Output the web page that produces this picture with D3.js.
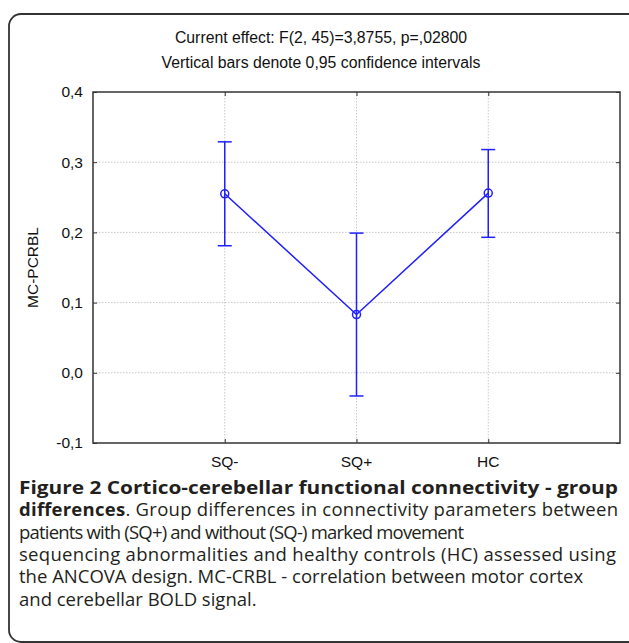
<!DOCTYPE html>
<html>
<head>
<meta charset="utf-8">
<script src="https://cdnjs.cloudflare.com/ajax/libs/d3/7.8.5/d3.min.js"></script>
<style>
  body { margin: 0; background: #fff; }
  svg { display: block; }
</style>
</head>
<body>
<div id="chart"></div>
<script>
const groups = ["SQ-", "SQ+", "HC"];
const means = [0.255, 0.083, 0.256];
const upper = [0.329, 0.199, 0.318];
const lower = [0.181, -0.033, 0.193];
const yTicks = [-0.1, 0.0, 0.1, 0.2, 0.3, 0.4];
const titleLines = [
  "Current effect: F(2, 45)=3,8755, p=,02800",
  "Vertical bars denote 0,95 confidence intervals"
];
const yLabel = "MC-PCRBL";

const BLUE = "#1f1fff";
const FONT = "Liberation Sans, Arial, sans-serif";
const width = 629, height = 643;
const plotL = 93, plotR = 620, plotT = 92, plotB = 443;

const svg = d3.select("#chart").append("svg")
  .attr("width", width)
  .attr("height", height);

// outer frame
svg.append("rect")
  .attr("x", 9).attr("y", 14)
  .attr("width", 640).attr("height", 628)
  .attr("rx", 12)
  .attr("fill", "none")
  .attr("stroke", "#333")
  .attr("stroke-width", 1.8);

let x = d3.scalePoint().domain(["", ...groups, " "]).range([plotL, plotR]);
let y = d3.scaleLinear().domain([-0.1, 0.4]).range([plotB, plotT]);

let fmt = d => d3.format(".1f")(d).replace(".", ",").replace("−", "-");

// grid
let grid = svg.append("g")
  .attr("stroke", "#c8c8c8")
  .attr("stroke-dasharray", "1.5,1.5")
  .attr("stroke-width", 1);
grid.selectAll(".gy")
  .data(yTicks.slice(1, -1))
  .join("line")
  .attr("x1", plotL).attr("x2", plotR)
  .attr("y1", d => y(d)).attr("y2", d => y(d));
grid.selectAll(".gx")
  .data(groups)
  .join("line")
  .attr("x1", d => x(d)).attr("x2", d => x(d))
  .attr("y1", plotT).attr("y2", plotB);

// axes (ticks pointing inward)
svg.append("g")
  .attr("transform", `translate(${plotL},0)`)
  .call(d3.axisRight(y).tickValues(yTicks).tickSize(4).tickFormat(""))
  .call(g => g.select(".domain").remove());
svg.append("g")
  .attr("transform", `translate(${plotR},0)`)
  .call(d3.axisLeft(y).tickValues(yTicks).tickSize(4).tickFormat(""))
  .call(g => g.select(".domain").remove());
svg.append("g")
  .attr("transform", `translate(0,${plotB})`)
  .call(d3.axisTop(x).tickValues(groups).tickSize(4).tickFormat(""))
  .call(g => g.select(".domain").remove());
svg.append("g")
  .attr("transform", `translate(0,${plotT})`)
  .call(d3.axisBottom(x).tickValues(groups).tickSize(4).tickFormat(""))
  .call(g => g.select(".domain").remove());
svg.selectAll(".tick line").attr("stroke", "#333");

svg.append("rect")
  .attr("x", plotL).attr("y", plotT)
  .attr("width", plotR - plotL).attr("height", plotB - plotT)
  .attr("fill", "none")
  .attr("stroke", "#333")
  .attr("stroke-width", 1.5);

// tick labels
svg.append("g")
  .selectAll("text")
  .data(yTicks)
  .join("text")
  .attr("x", plotL - 10)
  .attr("y", d => y(d))
  .attr("dy", "0.35em")
  .attr("text-anchor", "end")
  .attr("font-family", FONT)
  .attr("font-size", 15.5)
  .attr("fill", "#111")
  .text(fmt);

svg.append("g")
  .selectAll("text")
  .data(groups)
  .join("text")
  .attr("x", d => x(d))
  .attr("y", plotB + 19)
  .attr("dy", "0.35em")
  .attr("text-anchor", "middle")
  .attr("font-family", FONT)
  .attr("font-size", 15.5)
  .attr("fill", "#111")
  .text(d => d);

svg.append("text")
  .attr("transform", `translate(33,${(plotT + plotB) / 2}) rotate(-90)`)
  .attr("dy", "0.35em")
  .attr("text-anchor", "middle")
  .attr("font-family", FONT)
  .attr("font-size", 15.5)
  .attr("fill", "#111")
  .text(yLabel);

svg.append("g")
  .selectAll("text")
  .data(titleLines)
  .join("text")
  .attr("x", 321)
  .attr("y", (d, i) => 37 + i * 25)
  .attr("dy", "0.35em")
  .attr("text-anchor", "middle")
  .attr("font-family", FONT)
  .attr("font-size", 15.8)
  .attr("fill", "#111")
  .text(d => d);

// line + error bars + markers
let data = groups.map((g, i) => ({ g: g, m: means[i], hi: upper[i], lo: lower[i] }));

svg.append("path")
  .datum(data)
  .attr("fill", "none")
  .attr("stroke", BLUE)
  .attr("stroke-width", 1.5)
  .attr("d", d3.line().x(d => x(d.g)).y(d => y(d.m)));

let eb = svg.append("g")
  .attr("stroke", BLUE)
  .attr("stroke-width", 1.5)
  .selectAll("g")
  .data(data)
  .join("g");
eb.append("line")
  .attr("x1", d => x(d.g)).attr("x2", d => x(d.g))
  .attr("y1", d => y(d.hi)).attr("y2", d => y(d.lo));
eb.append("line")
  .attr("x1", d => x(d.g) - 7).attr("x2", d => x(d.g) + 7)
  .attr("y1", d => y(d.hi)).attr("y2", d => y(d.hi));
eb.append("line")
  .attr("x1", d => x(d.g) - 7).attr("x2", d => x(d.g) + 7)
  .attr("y1", d => y(d.lo)).attr("y2", d => y(d.lo));
eb.append("circle")
  .attr("cx", d => x(d.g))
  .attr("cy", d => y(d.m))
  .attr("r", 4)
  .attr("fill", "none");

// caption
const captionLines = [
  [["Figure 2 Cortico-cerebellar functional connectivity - group", true]],
  [["differences", true], [". Group differences in connectivity parameters between", false]],
  [["patients with (SQ+) and without (SQ-) marked movement", false]],
  [["sequencing abnormalities and healthy controls (HC) assessed using", false]],
  [["the ANCOVA design. MC-CRBL - correlation between motor cortex", false]],
  [["and cerebellar BOLD signal.", false]]
];
// right end of the justified / odd lines in the reference (null = natural width)
const captionEnds = [618, 618, 464, 616, null, null];

let cap = svg.append("g")
  .attr("font-family", "Open Sans, sans-serif")
  .attr("font-size", 18.5)
  .attr("fill", "#231f20");
cap.selectAll("text")
  .data(captionLines)
  .join("text")
  .attr("x", 19)
  .attr("y", (d, i) => 494 + i * 22.3)
  .each(function (parts, i) {
    let t = d3.select(this);
    t.selectAll("tspan")
      .data(parts)
      .join("tspan")
      .attr("font-weight", p => p[1] ? "bold" : "normal")
      .text(p => p[0]);
    if (captionEnds[i]) {
      t.attr("textLength", captionEnds[i] - 19)
        .attr("lengthAdjust", i === 0 ? "spacingAndGlyphs" : "spacing");
    }
  });
</script>
</body>
</html>
